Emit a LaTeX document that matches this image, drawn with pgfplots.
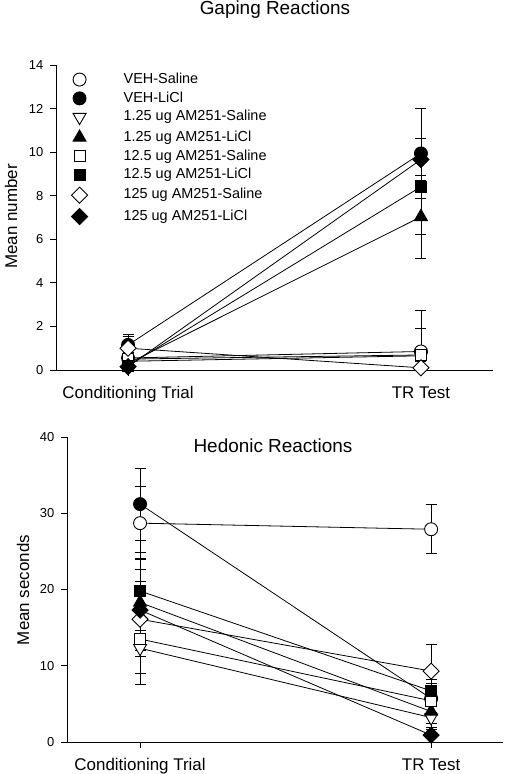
\documentclass[border=0pt]{standalone}
\usepackage{pgfplots}
\pgfplotsset{compat=1.18}
\usepackage{fontspec}
\setmainfont{Liberation Sans}

\pgfplotsset{
  myaxis/.style={
    scale only axis, width=437bp, height=305bp,
    axis x line=bottom, axis y line=left,
    axis line style={line width=0.8bp, -},
    tick align=outside, major tick length=6bp,
    every tick/.style={line width=0.8bp, black},
    xmin=-0.246, xmax=1.246,
    xtick={0,1}, xticklabels={Conditioning Trial, TR Test},
    xticklabel style={font=\fontsize{17}{20}\selectfont, inner sep=0pt, yshift=-10.5bp},
    yticklabel style={font=\fontsize{13}{15}\selectfont, inner sep=0pt, xshift=-6.5bp},
    /pgf/number format/assume math mode=true,
    error bars/y dir=both, error bars/y explicit,
    error bars/error bar style={line width=0.8bp, black},
    error bars/error mark options={mark size=5.5bp, line width=0.8bp, black, rotate=90},
  },
  sA/.style={black, line width=0.8bp, mark=*, mark size=6.5bp, mark options={fill=white, draw=black, line width=0.9bp}},
  sB/.style={black, line width=0.8bp, mark=*, mark size=6.5bp, mark options={fill=black, draw=black, line width=0.9bp}},
  sC/.style={black, line width=0.8bp, mark=triangle*, mark size=7.5bp, mark options={fill=white, draw=black, line width=0.9bp, rotate=180}},
  sD/.style={black, line width=0.8bp, mark=triangle*, mark size=7.5bp, mark options={fill=black, draw=black, line width=0.9bp}},
  sE/.style={black, line width=0.8bp, mark=square*, mark size=5.5bp, mark options={fill=white, draw=black, line width=0.9bp}},
  sF/.style={black, line width=0.8bp, mark=square*, mark size=5.5bp, mark options={fill=black, draw=black, line width=0.9bp}},
  sG/.style={black, line width=0.8bp, mark=square*, mark size=5.7bp, mark options={fill=white, draw=black, line width=0.9bp, rotate=45}},
  sH/.style={black, line width=0.8bp, mark=square*, mark size=5.7bp, mark options={fill=black, draw=black, line width=0.9bp, rotate=45}},
}

\begin{document}
\begin{tikzpicture}[x=1bp,y=1bp]
\path[use as bounding box] (0,0) rectangle (505,774);

% ---------------- Gaping Reactions ----------------
\begin{axis}[myaxis, at={(56bp,404bp)}, anchor=south west,
  ymin=0, ymax=14, ytick={0,2,...,14},
  legend style={at={(axis description cs:0.035,0.975)}, anchor=north west,
    draw=none, fill=none, inner sep=0pt, font=\fontsize{14.5}{17}\selectfont,
    row sep=5.3bp, column sep=36bp, legend cell align=left,
    nodes={inner sep=0pt, text height=10.5bp, text depth=3bp}},
]
\addlegendimage{only marks, sA}\addlegendentry{VEH-Saline}
\addlegendimage{only marks, sB}\addlegendentry{VEH-LiCl}
\addlegendimage{only marks, sC}\addlegendentry{1.25 ug AM251-Saline}
\addlegendimage{only marks, sD}\addlegendentry{1.25 ug AM251-LiCl}
\addlegendimage{only marks, sE}\addlegendentry{12.5 ug AM251-Saline}
\addlegendimage{only marks, sF}\addlegendentry{12.5 ug AM251-LiCl}
\addlegendimage{only marks, sG}\addlegendentry{125 ug AM251-Saline}
\addlegendimage{only marks, sH}\addlegendentry{125 ug AM251-LiCl}

\addplot[sA, forget plot] coordinates {(0,0.55) +- (0,0.35) (1,0.85) +- (0,1.87)};
\addplot[sB, forget plot] coordinates {(0,1.15) +- (0,0.50) (1,9.94) +- (0,2.06)};
\addplot[sC, forget plot] coordinates {(0,0.40) +- (0,0.30) (1,0.65) +- (0,1.25)};
\addplot[sD, forget plot] coordinates {(0,0.30) +- (0,0.30) (1,7.03) +- (0,1.91)};
\addplot[sE, forget plot] coordinates {(0,0.50) +- (0,0.30) (1,0.69) +- (0,0.28)};
\addplot[sF, forget plot] coordinates {(0,0.20) +- (0,0.20) (1,8.41) +- (0,2.20)};
\addplot[sG, forget plot] coordinates {(0,1.00) +- (0,0.53) (1,0.10) +- (0,0.10)};
\addplot[sH, forget plot] coordinates {(0,0.15) +- (0,0.15) (1,9.66) +- (0,0.96)};
\end{axis}

% ---------------- Hedonic Reactions ----------------
\begin{axis}[myaxis, at={(67bp,32bp)}, anchor=south west, width=436bp,
  xmin=-0.251, xmax=1.247,
  ymin=0, ymax=40, ytick={0,10,...,40},
]
\addplot[sA] coordinates {(0,28.7) +- (0,4.8) (1,27.9) +- (0,3.2)};
\addplot[sB] coordinates {(0,31.2) +- (0,4.7) (1,5.7) +- (0,2.0)};
\addplot[sC] coordinates {(0,12.3) +- (0,4.7) (1,3.2) +- (0,1.5)};
\addplot[sD] coordinates {(0,18.3) +- (0,5.8) (1,4.0) +- (0,1.5)};
\addplot[sE] coordinates {(0,13.5) +- (0,4.5) (1,5.4) +- (0,1.5)};
\addplot[sF] coordinates {(0,19.8) +- (0,5.1) (1,6.7) +- (0,1.5)};
\addplot[sG] coordinates {(0,16.1) +- (0,4.9) (1,9.3) +- (0,3.5)};
\addplot[sH] coordinates {(0,17.3) +- (0,5.3) (1,0.9) +- (0,1.0)};
\end{axis}

\node[anchor=base, font=\fontsize{19}{22}\selectfont] at (275bp,759bp) {Gaping Reactions};
\node[anchor=base, font=\fontsize{19}{22}\selectfont] at (273bp,321.7bp) {Hedonic Reactions};
\node[anchor=base, rotate=90, font=\fontsize{17}{20}\selectfont] at (17bp,557.5bp) {Mean number};
\node[anchor=base, rotate=90, font=\fontsize{17}{20}\selectfont] at (29bp,184bp) {Mean seconds};
\end{tikzpicture}
\end{document}
